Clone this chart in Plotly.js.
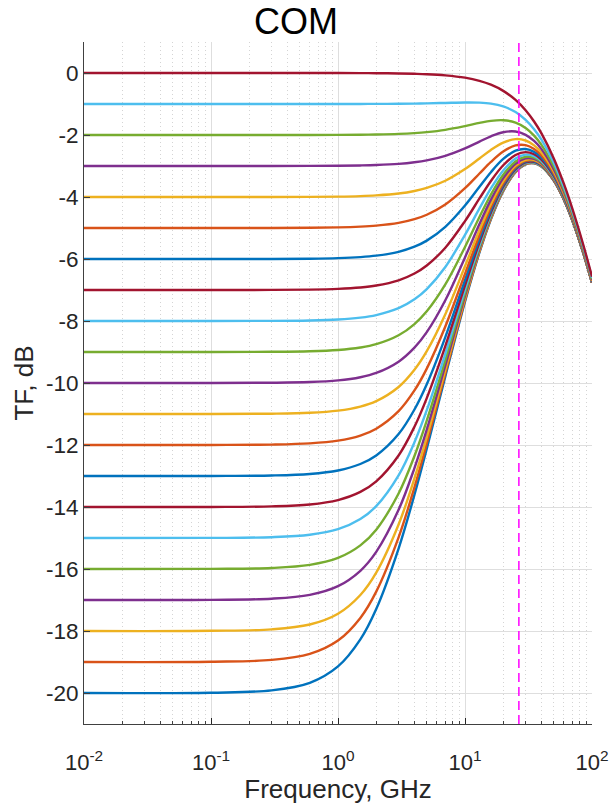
<!DOCTYPE html>
<html>
<head>
<meta charset="utf-8">
<script src="https://cdn.plot.ly/plotly-3.0.1.min.js"></script>
<style>
  html, body { margin: 0; padding: 0; background: #ffffff; }
  #chart { width: 613px; height: 804px; }
</style>
</head>
<body>
<div id="chart"></div>
<script>
// Frequency sample points (GHz)
const freqGHz = [0.01, 0.1, 0.3, 0.6, 1, 1.5, 2, 3, 4, 5, 7, 10, 13, 16, 20, 25, 30, 35, 40, 50, 60, 70, 85, 100];

// Transfer function (dB) for each DC gain setting
const tf_dc0   = [0, 0, 0, -0.001, -0.002, -0.003, -0.006, -0.014, -0.025, -0.038, -0.075, -0.151, -0.253, -0.377, -0.576, -0.869, -1.202, -1.566, -1.950, -2.755, -3.571, -4.372, -5.515, -6.574];
const tf_dcm1  = [-1.000, -1.000, -1.000, -1.000, -0.999, -0.998, -0.996, -0.993, -0.987, -0.980, -0.966, -0.952, -0.957, -0.988, -1.078, -1.261, -1.511, -1.814, -2.152, -2.894, -3.672, -4.448, -5.567, -6.613];
const tf_dcm2  = [-2.000, -2.000, -2.000, -1.998, -1.996, -1.991, -1.984, -1.965, -1.939, -1.907, -1.833, -1.713, -1.611, -1.543, -1.522, -1.599, -1.773, -2.020, -2.318, -3.007, -3.753, -4.510, -5.610, -6.644];
const tf_dcm3  = [-3.000, -3.000, -2.999, -2.997, -2.992, -2.982, -2.968, -2.931, -2.879, -2.817, -2.671, -2.431, -2.212, -2.041, -1.910, -1.888, -1.994, -2.192, -2.455, -3.099, -3.819, -4.559, -5.644, -6.669];
const tf_dcm4  = [-4.000, -4.000, -3.999, -3.995, -3.987, -3.971, -3.948, -3.888, -3.806, -3.707, -3.475, -3.099, -2.756, -2.482, -2.246, -2.132, -2.177, -2.334, -2.567, -3.174, -3.873, -4.599, -5.671, -6.689];
const tf_dcm5  = [-5.000, -5.000, -4.998, -4.993, -4.981, -4.957, -4.924, -4.835, -4.715, -4.572, -4.241, -3.715, -3.243, -2.867, -2.532, -2.337, -2.328, -2.450, -2.659, -3.235, -3.915, -4.630, -5.693, -6.705];
const tf_dcm6  = [-6.000, -6.000, -5.998, -5.990, -5.973, -5.940, -5.893, -5.768, -5.603, -5.407, -4.963, -4.275, -3.672, -3.199, -2.773, -2.506, -2.452, -2.544, -2.732, -3.283, -3.949, -4.656, -5.710, -6.717];
const tf_dcm7  = [-7.000, -7.000, -6.997, -6.987, -6.963, -6.919, -6.856, -6.687, -6.467, -6.209, -5.636, -4.778, -4.047, -3.482, -2.975, -2.645, -2.554, -2.621, -2.792, -3.322, -3.977, -4.676, -5.724, -6.727];
const tf_dcm8  = [-8.000, -7.999, -7.996, -7.982, -7.951, -7.891, -7.808, -7.586, -7.300, -6.971, -6.257, -5.223, -4.369, -3.721, -3.143, -2.759, -2.635, -2.682, -2.840, -3.353, -3.999, -4.692, -5.735, -6.735];
const tf_dcm9  = [-9.000, -8.999, -8.994, -8.976, -8.935, -8.856, -8.749, -8.462, -8.099, -7.689, -6.822, -5.612, -4.643, -3.921, -3.280, -2.852, -2.702, -2.732, -2.878, -3.378, -4.016, -4.705, -5.744, -6.742];
const tf_dcm10 = [-10.000, -9.999, -9.992, -9.970, -9.916, -9.814, -9.675, -9.311, -8.859, -8.359, -7.331, -5.948, -4.873, -4.086, -3.393, -2.927, -2.755, -2.772, -2.909, -3.398, -4.030, -4.715, -5.751, -6.747];
const tf_dcm11 = [-11.000, -10.999, -10.990, -10.961, -10.892, -10.761, -10.585, -10.128, -9.574, -8.975, -7.782, -6.235, -5.066, -4.222, -3.485, -2.988, -2.798, -2.803, -2.934, -3.414, -4.041, -4.724, -5.756, -6.751];
const tf_dcm12 = [-12.000, -11.998, -11.987, -11.949, -11.861, -11.695, -11.473, -10.908, -10.240, -9.536, -8.177, -6.478, -5.225, -4.334, -3.559, -3.037, -2.832, -2.829, -2.953, -3.427, -4.050, -4.730, -5.761, -6.754];
const tf_dcm13 = [-13.000, -12.998, -12.984, -12.935, -12.823, -12.613, -12.337, -11.646, -10.854, -10.040, -8.518, -6.680, -5.356, -4.424, -3.619, -3.076, -2.860, -2.849, -2.969, -3.437, -4.057, -4.735, -5.764, -6.756];
const tf_dcm14 = [-14.000, -13.998, -13.979, -13.918, -13.776, -13.513, -13.172, -12.337, -11.412, -10.487, -8.810, -6.848, -5.463, -4.497, -3.667, -3.107, -2.882, -2.866, -2.981, -3.445, -4.063, -4.739, -5.767, -6.758];
const tf_dcm15 = [-15.000, -14.997, -14.974, -14.896, -14.717, -14.390, -13.972, -12.978, -11.912, -10.878, -9.057, -6.987, -5.550, -4.556, -3.705, -3.132, -2.900, -2.878, -2.991, -3.451, -4.067, -4.743, -5.769, -6.760];
const tf_dcm16 = [-16.000, -15.996, -15.967, -15.868, -15.644, -15.239, -14.732, -13.563, -12.355, -11.215, -9.263, -7.100, -5.620, -4.604, -3.736, -3.152, -2.914, -2.889, -2.999, -3.456, -4.071, -4.745, -5.771, -6.761];
const tf_dcm17 = [-17.000, -16.995, -16.958, -16.834, -16.554, -16.057, -15.449, -14.092, -12.743, -11.504, -9.435, -7.192, -5.676, -4.642, -3.761, -3.168, -2.925, -2.897, -3.005, -3.460, -4.073, -4.747, -5.772, -6.762];
const tf_dcm18 = [-18.000, -17.994, -17.947, -17.791, -17.443, -16.838, -16.116, -14.564, -13.076, -11.747, -9.576, -7.266, -5.722, -4.672, -3.781, -3.181, -2.934, -2.903, -3.010, -3.463, -4.076, -4.749, -5.773, -6.763];
const tf_dcm19 = [-19.000, -18.992, -18.933, -18.737, -18.307, -17.577, -16.730, -14.979, -13.362, -11.950, -9.691, -7.326, -5.758, -4.697, -3.796, -3.191, -2.941, -2.909, -3.014, -3.466, -4.077, -4.750, -5.774, -6.764];
const tf_dcm20 = [-20.000, -19.990, -19.915, -19.671, -19.142, -18.269, -17.289, -15.339, -13.603, -12.119, -9.785, -7.374, -5.787, -4.716, -3.809, -3.199, -2.946, -2.913, -3.018, -3.468, -4.079, -4.751, -5.775, -6.764];

// Plot order (first drawn at bottom): -20 dB ... 0 dB
const seriesInOrder = [tf_dcm20, tf_dcm19, tf_dcm18, tf_dcm17, tf_dcm16, tf_dcm15, tf_dcm14,
                       tf_dcm13, tf_dcm12, tf_dcm11, tf_dcm10, tf_dcm9, tf_dcm8, tf_dcm7,
                       tf_dcm6, tf_dcm5, tf_dcm4, tf_dcm3, tf_dcm2, tf_dcm1, tf_dc0];
const seriesNames = ['-20','-19','-18','-17','-16','-15','-14','-13','-12','-11','-10',
                     '-9','-8','-7','-6','-5','-4','-3','-2','-1','0'];

// Nyquist marker frequency (GHz)
const nyquistGHz = 26.5625;

// Axis ticks
const xTickVals = [0.01, 0.1, 1, 10, 100];
const xTickText = ['10<sup>-2</sup>', '10<sup>-1</sup>', '10<sup>0</sup>', '10<sup>1</sup>', '10<sup>2</sup>'];
const yTickVals = [-20, -18, -16, -14, -12, -10, -8, -6, -4, -2, 0];
const yTickText = ['-20', '-18', '-16', '-14', '-12', '-10', '-8', '-6', '-4', '-2', '0'];

const lineColors = ['#0072BD', '#D95319', '#EDB120', '#7E2F8E', '#77AC30', '#4DBEEE', '#A2142F'];

const minorVals = [];
for (let e = -2; e < 2; e++) {
  for (let m = 2; m <= 9; m++) minorVals.push(m * Math.pow(10, e));
}

const traces = seriesInOrder.map((ys, i) => ({
  x: freqGHz,
  y: ys,
  type: 'scatter',
  mode: 'lines',
  name: seriesNames[i],
  line: { color: lineColors[i % lineColors.length], width: 2.4, shape: 'spline', smoothing: 1 },
  showlegend: false,
  hoverinfo: 'skip'
}));

const fontFam = '"Liberation Sans", Arial, Helvetica, sans-serif';

const layout = {
  width: 613,
  height: 804,
  margin: { l: 84, r: 21, t: 42, b: 80 },
  paper_bgcolor: '#ffffff',
  plot_bgcolor: '#ffffff',
  font: { family: fontFam, color: '#262626' },
  title: {
    text: 'COM',
    font: { family: fontFam, size: 36, color: '#000000' },
    xref: 'container', x: 296 / 613, xanchor: 'center',
    yref: 'container', y: 1 - 21 / 804, yanchor: 'middle'
  },
  xaxis: {
    type: 'log',
    range: [-2, 2],
    tickmode: 'array',
    tickvals: xTickVals,
    ticktext: xTickText,
    ticks: 'inside',
    ticklen: 6,
    tickcolor: '#262626',
    tickfont: { family: fontFam, size: 22, color: '#262626' },
    ticklabelstandoff: 19,
    showline: true,
    linecolor: '#404040',
    linewidth: 1,
    showgrid: true,
    gridcolor: '#dedede',
    gridwidth: 1,
    zeroline: false,
    minor: {
      tickmode: 'array',
      tickvals: minorVals,
      ticks: 'inside',
      ticklen: 3,
      tickcolor: '#404040',
      showgrid: true,
      gridcolor: '#d4d4d4',
      griddash: '1px,3px',
      gridwidth: 1
    },
    title: { text: 'Frequency, GHz', font: { family: fontFam, size: 26, color: '#262626' }, standoff: 5 }
  },
  yaxis: {
    range: [-21, 1],
    tickmode: 'array',
    tickvals: yTickVals,
    ticktext: yTickText,
    ticks: 'inside',
    ticklen: 6,
    tickcolor: '#404040',
    tickfont: { family: fontFam, size: 22.5, color: '#262626' },
    showline: true,
    linecolor: '#404040',
    linewidth: 1,
    showgrid: true,
    gridcolor: '#dedede',
    gridwidth: 1,
    zeroline: false,
    title: { text: 'TF, dB', font: { family: fontFam, size: 26, color: '#262626' }, standoff: 4 }
  },
  shapes: [{
    type: 'line',
    xref: 'x', yref: 'paper',
    x0: nyquistGHz, x1: nyquistGHz, y0: 0, y1: 1,
    line: { color: '#FF00FF', width: 1.5, dash: '9px,5px' },
    layer: 'above'
  }]
};

Plotly.newPlot('chart', traces, layout, { staticPlot: true, displayModeBar: false });
</script>
</body>
</html>
